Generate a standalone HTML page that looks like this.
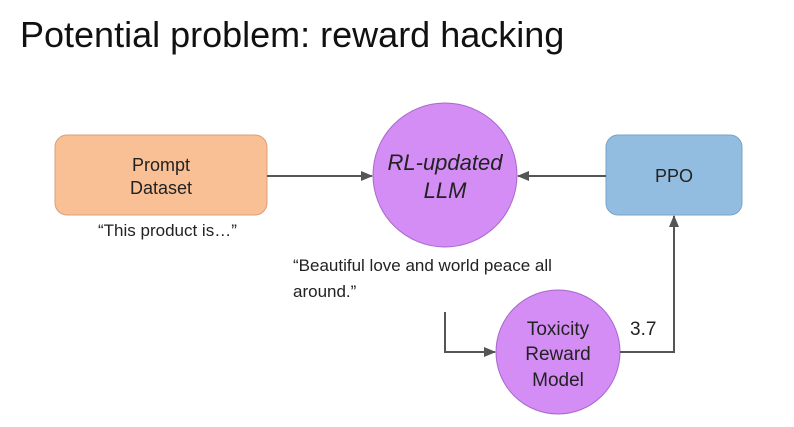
<!DOCTYPE html>
<html><head><style>
body{margin:0;background:#fff;}
svg{display:block;font-family:"Liberation Sans",sans-serif;}
</style></head><body>
<svg width="794" height="427" viewBox="0 0 794 427">
<defs><marker id="a" markerWidth="12" markerHeight="10" refX="11" refY="5" orient="auto" markerUnits="userSpaceOnUse"><path d="M0,0 L12,5 L0,10z" fill="#555"/></marker></defs>
<text x="20" y="47" font-size="36" fill="#111">Potential problem: reward hacking</text>
<rect x="55" y="135" width="212" height="80" rx="12" fill="#f9c096" stroke="#d9a07a"/>
<text x="161" y="171" font-size="18" text-anchor="middle" fill="#222">Prompt</text>
<text x="161" y="194" font-size="18" text-anchor="middle" fill="#222">Dataset</text>
<rect x="606" y="135" width="136" height="80" rx="12" fill="#92bde0" stroke="#7aa3c6"/>
<text x="674" y="182" font-size="18" text-anchor="middle" fill="#222">PPO</text>
<circle cx="445" cy="175" r="72" fill="#d48df5" stroke="#aa66cc"/>
<text x="445" y="170" font-size="22" font-style="italic" text-anchor="middle" fill="#222">RL-updated</text>
<text x="445" y="198" font-size="22" font-style="italic" text-anchor="middle" fill="#222">LLM</text>
<circle cx="558" cy="352" r="62" fill="#d48df5" stroke="#aa66cc"/>
<text x="558" y="335" font-size="19" text-anchor="middle" fill="#222">Toxicity</text>
<text x="558" y="360" font-size="19" text-anchor="middle" fill="#222">Reward</text>
<text x="558" y="386" font-size="19" text-anchor="middle" fill="#222">Model</text>
<g stroke="#555" stroke-width="2" fill="none">
<line x1="267" y1="176" x2="372" y2="176" marker-end="url(#a)"/>
<line x1="606" y1="176" x2="518" y2="176" marker-end="url(#a)"/>
<polyline points="445,312 445,352 495,352" marker-end="url(#a)"/>
<polyline points="620,352 674,352 674,216" marker-end="url(#a)"/>
</g>
<text x="98" y="236" font-size="17" fill="#222">“This product is…”</text>
<text x="293" y="271" font-size="17" fill="#222">“Beautiful love and world peace all</text>
<text x="293" y="297" font-size="17" fill="#222">around.”</text>
<text x="630" y="335" font-size="19" fill="#222">3.7</text>
</svg>
</body></html>
